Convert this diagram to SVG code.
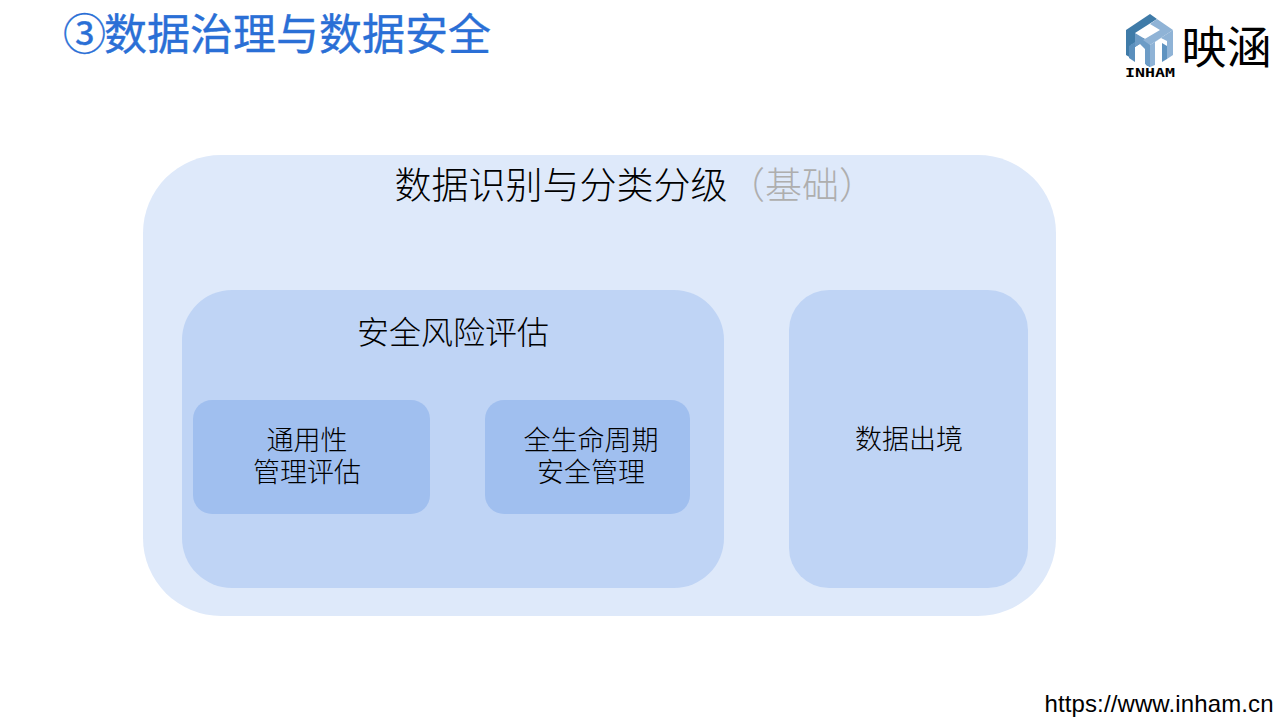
<svg xmlns="http://www.w3.org/2000/svg" width="1280" height="720" viewBox="0 0 1280 720">
<style>
text{font-family:"Noto Sans CJK SC","Liberation Sans",sans-serif;font-weight:300;fill:#000;text-anchor:middle}
.l1{fill:#dee9fa}.l2{fill:#bfd4f5}.l3{fill:#a0bfef}
.t1{font-size:37px}.t2{font-size:32px}.t3{font-size:27px}
</style>
<rect width="1280" height="720" fill="#fff"/>
<text id="title" x="63" y="50" style="text-anchor:start;font-size:43px;font-weight:400;fill:#2a6fd6;stroke:#2a6fd6;stroke-width:.35">③<tspan dx="-2">数据治理与数据安全</tspan></text>
<g id="logo">
<path d="M1126 30L1150 14L1157 19L1135 33V47L1141 43L1146 47V65L1150 67V42L1143 38L1126 48Z" fill="#3f7ba8"/>
<path d="M1126 30V55L1131 58V41L1135 38V33Z" fill="#3f7ba8"/>
<path d="M1135 33L1150 42V67L1145 64V49L1140 44L1135 47Z" fill="#6d9cc6"/>
<path d="M1129 46L1135 42V62L1129 58Z" fill="#5a8fbd"/>
<path d="M1157 19L1173 30L1150 45L1143 40L1160 30L1150 24Z" fill="#8fb3d6"/>
<path d="M1173 30V55L1167 59V41L1161 38L1155 42V65L1150 67V45Z" fill="#8fb3d6"/>
<path d="M1162 43L1167 46V59L1162 62Z" fill="#5f93c0"/>
<text x="1150" y="77" textLength="50" lengthAdjust="spacingAndGlyphs" style="font-family:'DejaVu Sans Mono',monospace;font-size:12px;font-weight:700">INHAM</text>
<text x="1204" y="64" style="font-size:45px;font-weight:400">映</text>
<text x="1249" y="64" style="font-size:45px;font-weight:400">涵</text>
</g>
<text id="url" x="1159" y="712" textLength="229" style="font-family:'Liberation Sans',sans-serif;font-size:24px;font-weight:400">https://www.inham.cn</text>
<g id="outer">
<rect class="l1" x="143" y="155" width="913" height="461" rx="78"/>
<text class="t1" x="561" y="199">数据识别与分类分级</text>
<text class="t1" x="802" y="199" style="fill:#aeaeae">（基础）</text>
</g>
<g id="risk">
<rect class="l2" x="182" y="290" width="542" height="298" rx="50"/>
<text class="t2" x="453" y="344">安全风险评估</text>
</g>
<g id="general">
<rect class="l3" x="193" y="400" width="237" height="114" rx="19"/>
<text class="t3" x="307" y="450">通用性<tspan x="307" y="482">管理评估</tspan></text>
</g>
<g id="lifecycle">
<rect class="l3" x="485" y="400" width="205" height="114" rx="19"/>
<text class="t3" x="591" y="450">全生命周期<tspan x="591" y="482">安全管理</tspan></text>
</g>
<g id="export">
<rect class="l2" x="789" y="290" width="239" height="298" rx="40"/>
<text class="t3" x="909" y="449">数据出境</text>
</g>
<g id="connectors"/>
</svg>
